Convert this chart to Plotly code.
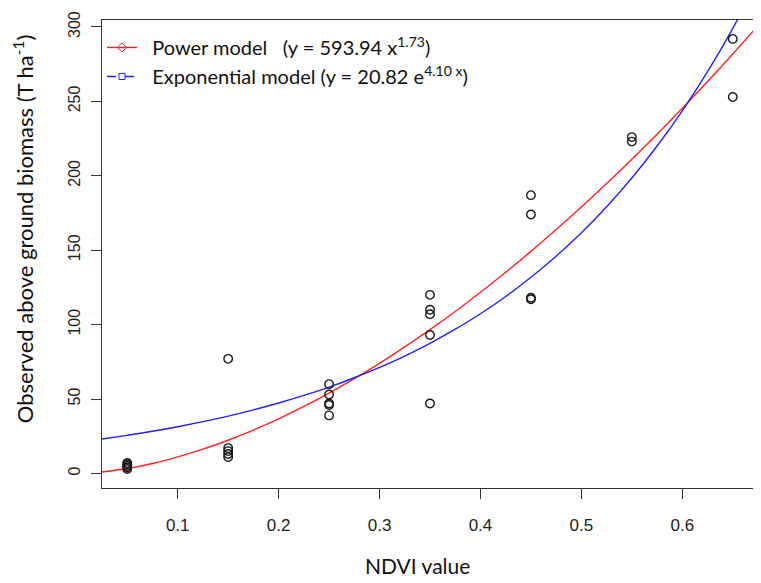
import plotly.graph_objects as go

# Observed data (NDVI class, biomass T/ha)
ndvi_obs = [0.05, 0.05, 0.05, 0.05, 0.05,
            0.15, 0.15, 0.15, 0.15, 0.15,
            0.25, 0.25, 0.25, 0.25, 0.25,
            0.35, 0.35, 0.35, 0.35, 0.35,
            0.45, 0.45, 0.45, 0.45,
            0.55, 0.55,
            0.65, 0.65]
biomass_obs = [7, 6, 5, 4, 3,
               77, 17, 15, 13, 11,
               60, 53, 47, 46, 39,
               120, 110, 107, 93, 47,
               187, 174, 118, 117,
               226, 223,
               292, 253]

# Fitted curves
curve_x = [0.025, 0.05, 0.075, 0.1, 0.125, 0.15, 0.175, 0.2, 0.225, 0.25, 0.275,
           0.3, 0.325, 0.35, 0.375, 0.4, 0.425, 0.45, 0.475, 0.5, 0.525, 0.55,
           0.575, 0.6, 0.625, 0.65, 0.675]
power_y = [1.0, 3.3, 6.7, 11.1, 16.3, 22.3, 29.1, 36.7, 45.0, 54.0, 63.7,
           74.0, 85.0, 96.6, 108.8, 121.7, 135.2, 149.2, 163.9, 179.0, 194.8, 211.2,
           228.0, 245.4, 263.4, 281.9, 300.9]
expo_y = [23.1, 25.6, 28.3, 31.4, 34.8, 38.5, 42.7, 47.3, 52.4, 58.0, 64.3,
          71.2, 78.9, 87.4, 96.9, 107.3, 118.9, 131.8, 146.0, 161.7, 179.2, 198.5,
          220.0, 243.7, 270.0, 299.1, 331.4]

x_ticks = [0.1, 0.2, 0.3, 0.4, 0.5, 0.6]
y_ticks = [0, 50, 100, 150, 200, 250, 300]

legend_labels = ["\u00a0\u00a0Power model   (y = 593.94 x<sup>1.73</sup>)",
                 "\u00a0\u00a0Exponential model (y = 20.82 e<sup>4.10 x</sup>)"]

RED = "#ff2020"
BLUE = "#2020ff"

fig = go.Figure()
fig.add_trace(go.Scatter(x=curve_x, y=power_y, mode="lines",
                         line=dict(color=RED, width=1.4, shape="spline"),
                         showlegend=False, hoverinfo="skip"))
fig.add_trace(go.Scatter(x=curve_x, y=expo_y, mode="lines",
                         line=dict(color=BLUE, width=1.4, shape="spline"),
                         showlegend=False, hoverinfo="skip"))
fig.add_trace(go.Scatter(x=ndvi_obs, y=biomass_obs, mode="markers",
                         marker=dict(symbol="circle-open", size=8.5, color="#1a1a1a",
                                     line=dict(width=1.4, color="#1a1a1a")),
                         showlegend=False))
# legend entries
fig.add_trace(go.Scatter(x=[None], y=[None], mode="lines+markers", name=legend_labels[0],
                         line=dict(color=RED, width=1.4),
                         marker=dict(symbol="diamond-open", size=7, color=RED)))
fig.add_trace(go.Scatter(x=[None], y=[None], mode="lines+markers", name=legend_labels[1],
                         line=dict(color=BLUE, width=1.4, dash="dash"),
                         marker=dict(symbol="square-open", size=6, color=BLUE)))

axis_common = dict(showline=True, linecolor="#333", linewidth=1.3, mirror=True,
                   ticks="outside", ticklen=10, tickwidth=1.2, tickcolor="#333",
                   showgrid=False, zeroline=False)

PLOT_H = 470  # plot-area height in pixels
PLOT_W = 656  # plot-area width in pixels

# the page body adds an 8px offset, so the figure is 8px smaller on each axis
fig.update_layout(
    width=753, height=575,
    margin=dict(l=94, r=3, t=10, b=95),
    paper_bgcolor="white", plot_bgcolor="white",
    xaxis=dict(range=[0.025, 0.674], tickvals=x_ticks,
               ticktext=[str(v) for v in x_ticks], ticklabelstandoff=11,
               tickfont=dict(family="Liberation Sans, Arial", size=17, color="#222"),
               **axis_common),
    yaxis=dict(range=[-9.8, 304.7], tickvals=y_ticks, tickangle=-90,
               ticklabelstandoff=4,
               tickfont=dict(family="Liberation Sans, Arial", size=16, color="#222"),
               **axis_common),
    legend=dict(x=0.0, y=1 - 8 / PLOT_H, xanchor="left", yanchor="top",
                bgcolor="rgba(0,0,0,0)", borderwidth=0,
                font=dict(family="Lato", size=20, color="#111"),
                itemwidth=30, tracegroupgap=0),
    annotations=[
        dict(text="NDVI value", xref="paper", yref="paper",
             x=316 / PLOT_W, y=-78 / PLOT_H, showarrow=False,
             font=dict(family="Lato", size=21, color="#111"),
             xanchor="center", yanchor="middle"),
        dict(text="Observed above ground biomass (T ha<sup>-1</sup>)",
             xref="paper", yref="paper",
             x=-79 / PLOT_W, y=260 / PLOT_H, showarrow=False,
             textangle=-90, font=dict(family="Lato", size=22, color="#111"),
             xanchor="center", yanchor="middle"),
    ],
)

fig.write_html("out.html")
